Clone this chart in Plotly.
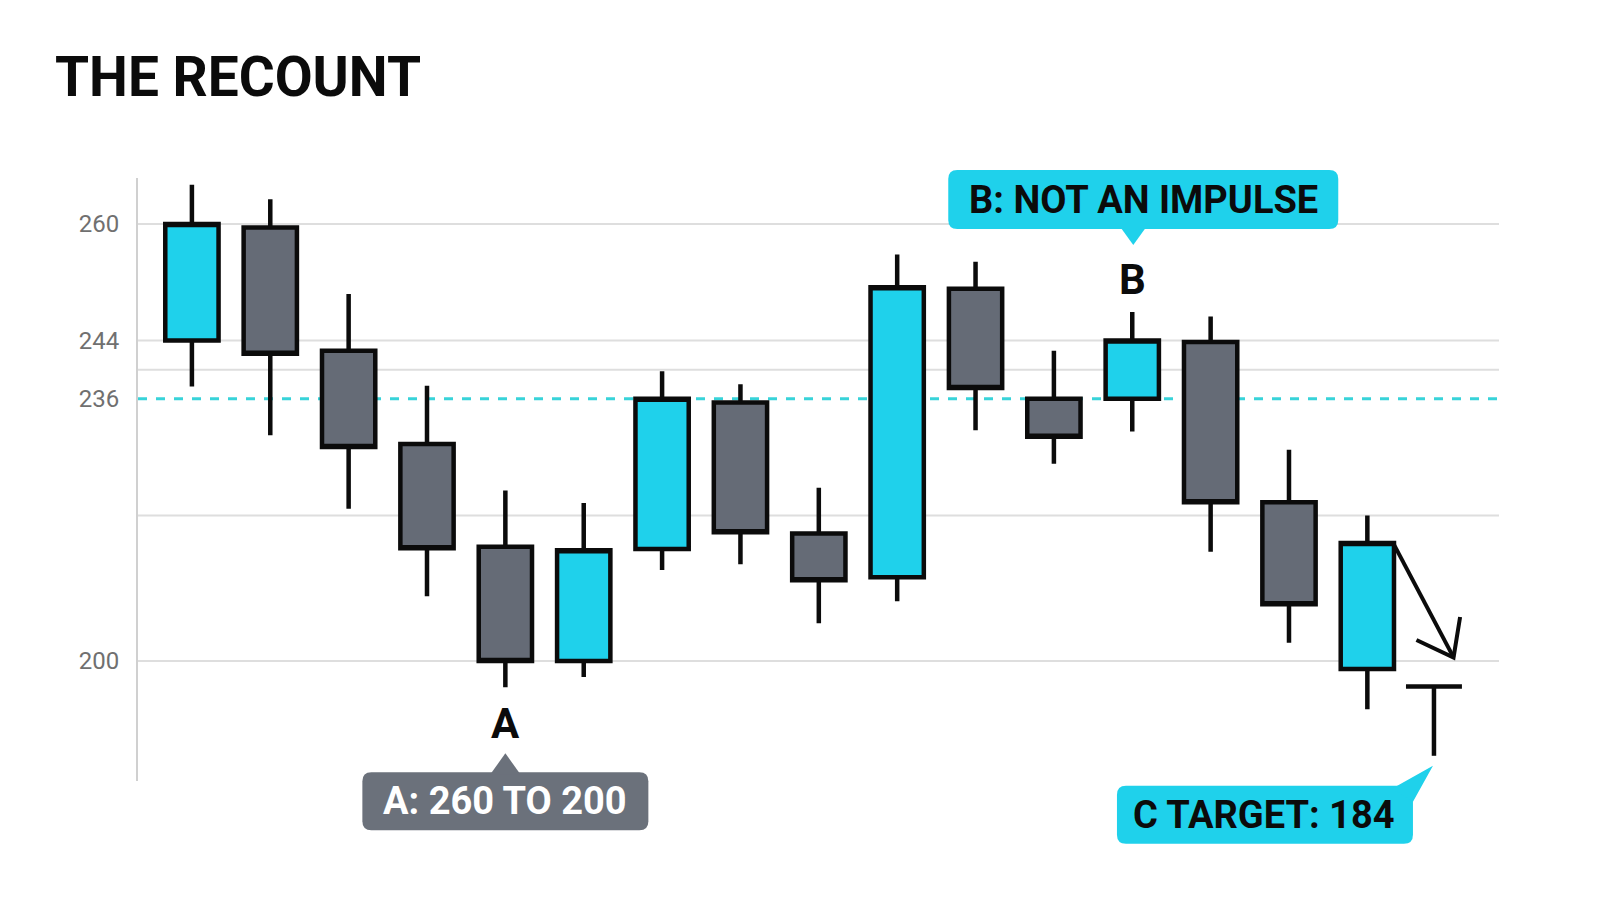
import math
import plotly.graph_objects as go

# ---------------- data ----------------
idx = list(range(16))
opens  = [244.0, 259.5, 242.6, 229.8, 215.7, 200.0, 215.4, 235.5, 217.5, 211.5, 251.1, 236.0, 236.0, 243.8, 221.8, 198.9]
highs  = [265.4, 263.4, 250.4, 237.8, 223.4, 221.7, 239.8, 238.0, 223.8, 255.8, 254.8, 242.6, 247.9, 247.3, 229.0, 220.0]
lows   = [237.7, 231.0, 220.9, 208.9, 196.4, 197.8, 212.5, 213.3, 205.2, 208.2, 231.7, 227.1, 231.5, 215.0, 202.5, 193.4]
closes = [260.0, 242.2, 229.4, 215.5, 200.0, 215.2, 236.0, 217.7, 211.1, 251.3, 237.5, 230.8, 244.0, 221.8, 207.8, 216.2]

tick_vals = [200, 236, 244, 260]
tick_text = ["200", "236", "244", "260"]
grid_vals = [200, 220, 240, 244, 260]
ref_level = 236

# projected C leg (target marker)
T_X = 15.85
T_TOP = 196.5
T_BOTTOM = 187.0

# arrow from last candle towards target
ARROW_START = (15.33, 216.2)
ARROW_END = (16.1, 200.5)

A_IDX, B_IDX = 4, 12
title_text = "THE RECOUNT"
a_letter, b_letter = "A", "B"
a_label = "A: 260 TO 200"
b_label = "B: NOT AN IMPULSE"
c_label = "C TARGET: 184"

# ---------------- style ----------------
W, H = 1600, 914
OFF = 8  # page body margin compensation
M_L, M_T = 138 - OFF, 178 - OFF
PLOT_W, PLOT_H = 1361, 603
M_R = W - M_L - PLOT_W
M_B = H - M_T - PLOT_H
X_RANGE = [-0.688, 16.68]
Y_RANGE = [183.54, 266.31]
CYAN = "#1fd1eb"
GRAY = "#656b76"
GRAY_BOX = "#6b717b"
BLACK = "#0b0b0b"
GRID = "#dedede"
FONT = "Roboto"
LW = 4.5
HALF_W = 0.34

px_x = PLOT_W / (X_RANGE[1] - X_RANGE[0])
px_y = PLOT_H / (Y_RANGE[1] - Y_RANGE[0])


def xp(v):
    return (v - X_RANGE[0]) / (X_RANGE[1] - X_RANGE[0])


def yp(v):
    return (v - Y_RANGE[0]) / (Y_RANGE[1] - Y_RANGE[0])


fig = go.Figure()

fig.add_trace(go.Candlestick(
    x=idx, open=opens, high=highs, low=lows, close=closes,
    increasing=dict(fillcolor=CYAN, line=dict(color=BLACK, width=LW)),
    decreasing=dict(fillcolor=GRAY, line=dict(color=BLACK, width=LW)),
    whiskerwidth=0, showlegend=False, hoverinfo="skip",
))

# target marker "T"
fig.add_trace(go.Scatter(
    x=[T_X - HALF_W * 1.05, T_X + HALF_W * 1.05, None, T_X, T_X],
    y=[T_TOP, T_TOP, None, T_TOP, T_BOTTOM],
    mode="lines", line=dict(color=BLACK, width=LW), showlegend=False, hoverinfo="skip",
))

# arrow shaft + open V head (head computed in pixel space)
sx, sy = ARROW_START
ex, ey = ARROW_END
dxp = (ex - sx) * px_x
dyp = (ey - sy) * px_y
ang = math.atan2(dyp, dxp)
head_len = 41
spread = math.radians(37)
heads = []
for s in (1, -1):
    a = ang + math.pi + s * spread
    heads.append((ex + head_len * math.cos(a) / px_x, ey + head_len * math.sin(a) / px_y))
fig.add_trace(go.Scatter(
    x=[sx, ex, None, heads[0][0], ex, heads[1][0]],
    y=[sy, ey, None, heads[0][1], ey, heads[1][1]],
    mode="lines", line=dict(color=BLACK, width=LW - 0.5), showlegend=False, hoverinfo="skip",
))

shapes = []
for g in grid_vals:
    shapes.append(dict(type="line", xref="x domain", yref="y", x0=0, x1=1, y0=g, y1=g,
                       line=dict(color=GRID, width=2), layer="below"))
shapes.append(dict(type="line", xref="x domain", yref="y", x0=0, x1=1, y0=ref_level, y1=ref_level,
                   line=dict(color="#38d3d9", width=3, dash="dash"), layer="below"))


def rrect(x0, x1, y0, y1, r):
    # pixel offsets, y up; y0 bottom, y1 top
    return (f"M{x0 + r},{y0} L{x1 - r},{y0} Q{x1},{y0} {x1},{y0 + r} "
            f"L{x1},{y1 - r} Q{x1},{y1} {x1 - r},{y1} L{x0 + r},{y1} "
            f"Q{x0},{y1} {x0},{y1 - r} L{x0},{y0 + r} Q{x0},{y0} {x0 + r},{y0} Z")


def pix_shape(path, xa, ya, color):
    return dict(type="path", xref="paper", yref="paper", xsizemode="pixel", ysizemode="pixel",
                xanchor=xp(xa), yanchor=yp(ya), path=path, fillcolor=color,
                line=dict(width=0), layer="above")


a_y = lows[A_IDX]
b_y = highs[B_IDX]
# A callout (below candle A)
shapes.append(pix_shape(rrect(-143, 143, -143, -85, 9), A_IDX, a_y, GRAY_BOX))
shapes.append(pix_shape("M-15,-87 L0,-66 L15,-87 Z", A_IDX, a_y, GRAY_BOX))
# B callout (above candle B)
shapes.append(pix_shape(rrect(-184, 206, 83, 142, 9), B_IDX, b_y, CYAN))
shapes.append(pix_shape("M-12,85 L1,67 L14,85 Z", B_IDX, b_y, CYAN))
# C callout (below target)
shapes.append(pix_shape(rrect(-317, -21, -88, -30, 9), T_X, T_BOTTOM, CYAN))
shapes.append(pix_shape("M-42,-33 L-1,-10 L-21,-46 L-30,-40 Z", T_X, T_BOTTOM, CYAN))

annotations = [
    dict(x=A_IDX, y=a_y, text=f"<b>{a_letter}</b>", showarrow=False, yshift=-36,
         font=dict(family=FONT, size=42, color=BLACK), xanchor="center", yanchor="middle"),
    dict(x=A_IDX, y=a_y, text=f"<b>{a_label}</b>", showarrow=False, yshift=-114,
         font=dict(family=FONT, size=38, color="white"), xanchor="center", yanchor="middle"),
    dict(x=B_IDX, y=b_y, text=f"<b>{b_letter}</b>", showarrow=False, yshift=33,
         font=dict(family=FONT, size=42, color=BLACK), xanchor="center", yanchor="middle"),
    dict(x=B_IDX, y=b_y, text=f"<b>{b_label}</b>", showarrow=False, yshift=112, xshift=11,
         font=dict(family=FONT, size=38, color=BLACK), xanchor="center", yanchor="middle"),
    dict(x=T_X, y=T_BOTTOM, text=f"<b>{c_label}</b>", showarrow=False, yshift=-59, xshift=-170,
         font=dict(family=FONT, size=38, color=BLACK), xanchor="center", yanchor="middle"),
]

fig.update_layout(
    width=W, height=H,
    margin=dict(l=M_L, r=M_R, t=M_T, b=M_B),
    paper_bgcolor="white", plot_bgcolor="white",
    title=dict(text=f"<b>{title_text}</b>", xref="container", yref="container",
               x=(55 - OFF) / W, y=1 - (77 - OFF) / H, xanchor="left", yanchor="middle",
               font=dict(family=FONT, size=55, color=BLACK)),
    shapes=shapes, annotations=annotations,
    boxgap=0.32, boxgroupgap=0,
    xaxis=dict(range=X_RANGE, showgrid=False, zeroline=False, showticklabels=False,
               showline=False, rangeslider=dict(visible=False), fixedrange=True),
    yaxis=dict(range=Y_RANGE, tickvals=tick_vals, ticktext=tick_text, showgrid=False,
               zeroline=False, showline=True, linecolor="#d0d0d0", linewidth=2,
               ticks="", ticklabelstandoff=12,
               tickfont=dict(family=FONT, size=24, color="#707070"), fixedrange=True),
)

fig.write_html("out.html")
